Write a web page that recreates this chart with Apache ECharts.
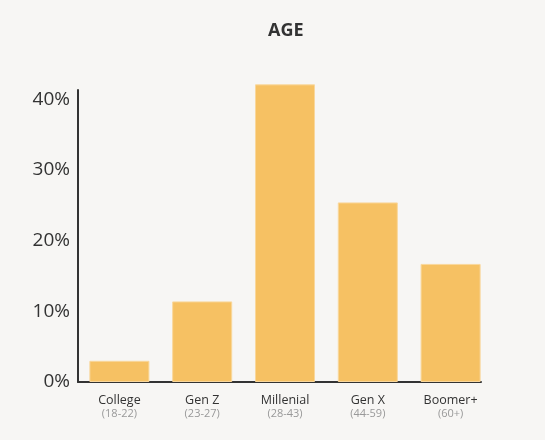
<!DOCTYPE html>
<html><head><meta charset="utf-8">
<script src="https://cdn.jsdelivr.net/npm/echarts@6/dist/echarts.min.js"></script>
<style>html,body{margin:0;padding:0;background:#f7f6f4}#c{width:545px;height:440px}</style>
</head><body><div id="c"></div>
<script>
var categories = ['College', 'Gen Z', 'Millenial', 'Gen X', 'Boomer+'];
var ageRanges = ['(18-22)', '(23-27)', '(28-43)', '(44-59)', '(60+)'];
var shares = [3.0, 11.4, 42.1, 25.4, 16.7];
var yTicks = [0, 10, 20, 30, 40];

var chart = echarts.init(document.getElementById('c'));
chart.setOption({
  backgroundColor: '#f7f6f4',
  animation: false,
  title: {
    text: 'AGE', left: 263, top: 17,
    textStyle: { fontFamily: 'Open Sans', fontWeight: 'bold', fontSize: 18, color: '#333' }
  },
  grid: [
    { left: 78, right: 53, top: 90, bottom: 58 },
    { left: 78, right: 64, top: 90, bottom: 58 }
  ],
  xAxis: [{
    type: 'category',
    gridIndex: 0,
    data: categories,
    axisLine: { show: false },
    axisTick: { show: false },
    axisLabel: {
      interval: 0,
      margin: 11,
      formatter: function (v, i) { return '{a|' + v + '}\n{b|' + ageRanges[i] + '}'; },
      rich: {
        a: { fontFamily: 'Open Sans', fontSize: 12.5, color: '#333', lineHeight: 14 },
        b: { fontFamily: 'Open Sans', fontSize: 11, color: '#999', lineHeight: 14 }
      }
    }
  }, {
    type: 'value',
    gridIndex: 1,
    axisLine: { show: true, onZero: false, lineStyle: { color: '#333', width: 2 } },
    axisTick: { show: false },
    axisLabel: { show: false },
    splitLine: { show: false }
  }],
  yAxis: [{
    type: 'value',
    gridIndex: 0,
    min: yTicks[0], max: 41.3, interval: 10,
    axisLine: { show: true, lineStyle: { color: '#333', width: 2 } },
    axisTick: { show: false },
    splitLine: { show: false },
    axisLabel: {
      showMaxLabel: false,
      margin: 8,
      fontFamily: 'Open Sans', fontSize: 19, color: '#333',
      formatter: function (v) { return yTicks.indexOf(v) >= 0 ? v + '%' : ''; }
    }
  }, {
    type: 'value',
    gridIndex: 1,
    show: false
  }],
  series: [{
    type: 'bar',
    xAxisIndex: 0,
    yAxisIndex: 0,
    data: shares,
    clip: false,
    z: 1,
    barCategoryGap: '27.5%',
    itemStyle: { color: '#f6c163', borderColor: '#f9d79c', borderWidth: 1 }
  }]
});
</script></body></html>
